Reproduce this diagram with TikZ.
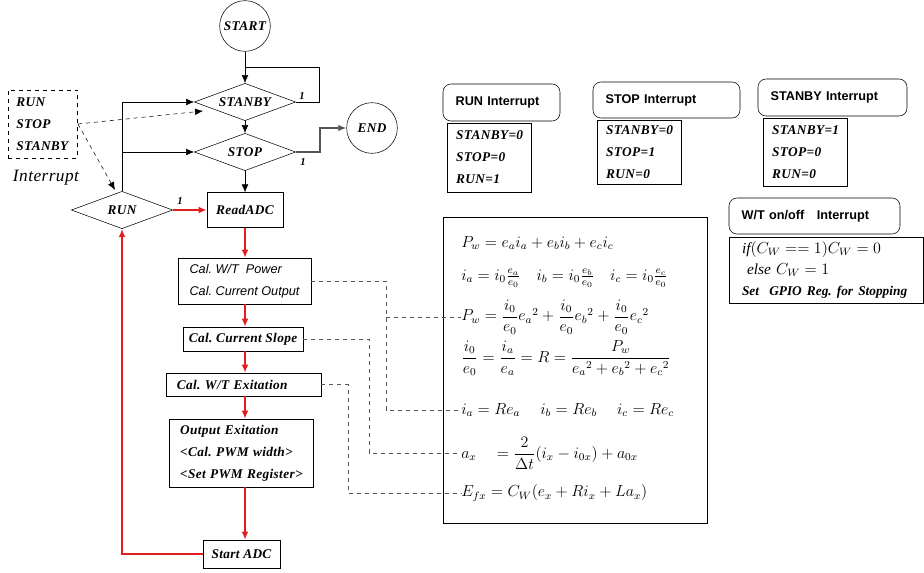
\documentclass[tikz,border=0pt]{standalone}
\usepackage{amsmath}
\usepackage{amssymb}
\usepackage{fontspec}
\setmainfont{Liberation Serif}
\setsansfont{Liberation Sans}
\newfontfamily\flowfont[LetterSpace=2.5]{Liberation Serif}
\usetikzlibrary{shapes.geometric,arrows.meta}
\frenchspacing

\definecolor{flowred}{RGB}{228,28,28}
\definecolor{linkgray}{RGB}{85,85,85}

\begin{document}
\begin{tikzpicture}[x=0.75pt,y=-0.75pt,>={Latex[length=6pt,width=5pt]},
  txt/.style={font=\flowfont\bfseries\itshape\fontsize{10}{16.5}\selectfont},
  term/.style={txt,draw,circle,minimum size=38pt,inner sep=0pt},
  cond/.style={txt,draw,diamond,shape aspect=2.7,minimum width=76pt,minimum height=28pt,inner sep=0pt},
  proc/.style={txt,draw,inner sep=0pt},
  head/.style={draw,rounded corners=6pt,align=left,inner xsep=9.5pt,inner ysep=0pt,
    font=\sffamily\bfseries\fontsize{9.5}{11}\selectfont},
  vals/.style={txt,draw,align=left,inner xsep=6.5pt,inner ysep=0pt,text width=50pt},
  one/.style={font=\flowfont\bfseries\itshape\fontsize{8}{8}\selectfont,inner sep=0pt},
  flow/.style={->,flowred,line width=1.5pt},
  link/.style={dashed,linkgray,line width=0.75pt},
  eq/.style={anchor=west,inner sep=0pt,font=\fontsize{12}{14}\selectfont}]
\useasboundingbox (0,0) rectangle (924,572);

\node[term] (start) at (245,26) {START};
\node[cond] (stanby) at (245,102) {STANBY};
\node[cond] (stop) at (245,152) {STOP};
\node[term] (end) at (372,128) {END};
\node[proc,minimum width=57pt,minimum height=26pt] (readadc) at (245,210) {ReadADC};
\node[cond] (run) at (122,210) {RUN};
\node[vals,dashed,text width=40pt,inner xsep=6pt,minimum height=51pt] (intr) at (43,124) {RUN\\STOP\\STANBY};
\node[font=\flowfont\itshape\fontsize{13}{14}\selectfont] (intrtxt) at (46,178) {Interrupt};

\node[proc,align=left,minimum width=99.75pt,minimum height=34.5pt,
  font=\sffamily\itshape\fontsize{9.5}{16.5}\selectfont] (power) at (244.5,281) {Cal. W/T\ \ Power\\Cal. Current Output};
\node[proc,minimum width=90pt,minimum height=18pt] (slope) at (243,339) {Cal. Current Slope};
\node[proc,align=left,text width=100pt,inner xsep=8pt,minimum height=17.25pt] (exc) at (243.5,384.5) {Cal. W/T Exitation};
\node[proc,align=left,text width=92pt,inner xsep=8pt,minimum height=51pt] (outexc) at (241.5,453) {Output Exitation\\<Cal. PWM width>\\<Set PWM Register>};
\node[proc,minimum width=57.75pt,minimum height=21pt] (startadc) at (241.5,554) {Start ADC};

\draw[->] (start) -- (stanby);
\coordinate (loop) at (319,67);
\draw (stanby.east) -| (loop) -- (loop -| stanby.north);
\node[one] (one1) at (302,96) {1};
\draw[->] (stanby) -- (stop);
\coordinate (bend) at (320,152);
\draw[->,linkgray,line width=1.2pt] (stop.east) -- (bend) |- (end.west);
\node[one] (one2) at (303,162) {1};
\draw[->] (stop) -- (readadc);
\draw[flow] (run.east) -- (readadc.west);
\node[one] (one3) at (180,201) {1};
\draw[->] (run.north) |- (stanby.west);
\draw[->] (run.north |- stop.west) -- (stop.west);
\coordinate (stanbyin) at (203,111);
\coordinate (runin) at (115,190);
\draw[dashed,->] (intr.east) -- (stanbyin);
\draw[dashed,->] (intr.east) -- (runin);

\draw[flow] (readadc) -- (readadc |- power.north);
\draw[flow] (power.south -| readadc) -- (readadc |- slope.north);
\draw[flow] (slope.south -| readadc) -- (readadc |- exc.north);
\draw[flow] (exc.south -| readadc) -- (readadc |- outexc.north);
\draw[flow] (outexc.south -| readadc) -- (readadc |- startadc.north);
\draw[flow] (startadc.west) -| (run.south);

\node[head,text width=68.75pt,minimum height=27.75pt] (runhead) at (501.5,102.5) {RUN Interrupt};
\node[vals,minimum height=51.75pt] (runvals) at (489.5,157.5) {STANBY=0\\STOP=0\\RUN=1};
\node[head,text width=91.25pt,minimum height=27pt] (stophead) at (666.5,100) {STOP Interrupt};
\node[vals,minimum height=48pt] (stopvals) at (639.5,152) {STANBY=0\\STOP=1\\RUN=0};
\node[head,text width=92.75pt,minimum height=27.75pt] (stanbyhead) at (832.5,97.5) {STANBY Interrupt};
\node[vals,minimum height=51pt] (stanbyvals) at (805.5,152) {STANBY=1\\STOP=0\\RUN=0};
\node[head,text width=109.25pt,minimum height=27pt] (wthead) at (814.5,216) {W/T on/off\ \ \ Interrupt};
\node[draw,align=left,text width=126pt,inner xsep=9.75pt,inner ysep=0pt,minimum height=49.5pt,
  font=\fontsize{11.5}{16}\selectfont] (wtvals) at (826,270)
  {$\mathit{if}(C_W \mathrel{==} 1)C_W = 0$\\
   \ $\mathit{else}\ C_W = 1$\\
   {\bfseries\itshape\fontsize{10}{12}\selectfont Set\ \ GPIO Reg. for Stopping}};

\node[draw,minimum width=198pt,minimum height=229.5pt] (eqbox) at (575,370) {};
\node[eq] (eqpw) at (461,243) {$P_w = e_a i_a + e_b i_b + e_c i_c$};
\node[eq] (eqi) at (461,278) {$i_a = i_0\frac{e_a}{e_0}\quad i_b = i_0\frac{e_b}{e_0}\quad i_c = i_0\frac{e_c}{e_0}$};
\node[eq] (eqpw2) at (461,317) {$P_w = \dfrac{i_0}{e_0}{e_a}^2 + \dfrac{i_0}{e_0}{e_b}^2 + \dfrac{i_0}{e_0}{e_c}^2$};
\node[eq] (eqr) at (461,358) {$\dfrac{i_0}{e_0} = \dfrac{i_a}{e_a} = R = \dfrac{P_w}{{e_a}^2 + {e_b}^2 + {e_c}^2}$};
\node[eq] (eqia) at (461,410) {$i_a = Re_a \quad\ i_b = Re_b \quad\ i_c = Re_c$};
\node[eq] (eqax) at (461,453) {$a_x \quad = \dfrac{2}{\Delta t}(i_x - i_{0x}) + a_{0x}$};
\node[eq] (eqef) at (461,493) {$E_{fx} = C_W(e_x + Ri_x + La_x)$};

\coordinate (dpow) at (386,0);
\coordinate (dslope) at (369,0);
\coordinate (dexc) at (348,0);
\draw[link] (power.east) -| (dpow |- eqia.west) -- (eqia.west);
\draw[link] (dpow |- eqpw2.west) -- (eqpw2.west);
\draw[link] (slope.east) -| (dslope |- eqax.west) -- (eqax.west);
\draw[link] (exc.east) -| (dexc |- eqef.west) -- (eqef.west);
\end{tikzpicture}
\end{document}
